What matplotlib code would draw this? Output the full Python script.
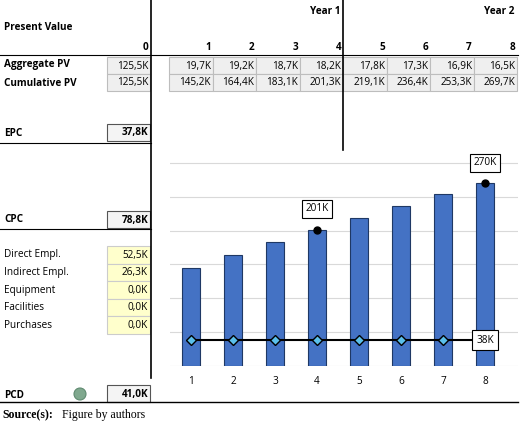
import matplotlib
matplotlib.use("Agg")
import matplotlib.pyplot as plt
from matplotlib.patches import Rectangle, Circle

periods = [1, 2, 3, 4, 5, 6, 7, 8]
aggregate_pv = ["19,7K", "19,2K", "18,7K", "18,2K", "17,8K", "17,3K", "16,9K", "16,5K"]
cumulative_pv = ["145,2K", "164,4K", "183,1K", "201,3K", "219,1K", "236,4K", "253,3K", "269,7K"]
cumulative_vals = [145.2, 164.4, 183.1, 201.3, 219.1, 236.4, 253.3, 269.7]
pcd_line = [38] * 8
cost_labels = ["Direct Empl.", "Indirect Empl.", "Equipment", "Facilities", "Purchases"]
cost_values = ["52,5K", "26,3K", "0,0K", "0,0K", "0,0K"]
summary = {"EPC": "37,8K", "CPC": "78,8K", "PCD": "41,0K", "PV0": "125,5K"}

fig = plt.figure(figsize=(5.2, 4.24), dpi=100)
ax = fig.add_axes([0, 0, 1, 1])
ax.set_xlim(0, 520); ax.set_ylim(424, 0); ax.axis("off")
F = "Open Sans"
fs = 7.2

def cell(x0, x1, y0, y1, txt, fc="#efefef", ec="#bdbdbd", bold=False):
    ax.add_patch(Rectangle((x0, y0), x1 - x0, y1 - y0, fc=fc, ec=ec, lw=0.8))
    ax.text(x1 - 2, (y0 + y1) / 2 + 0.5, txt, ha="right", va="center", fontsize=fs,
            family=F, fontweight="bold" if bold else "normal")

# lines
ax.plot([151, 151], [0, 378], color="black", lw=1.2)
ax.plot([343, 343], [0, 150], color="black", lw=1.2)
ax.plot([0, 518], [55, 55], color="black", lw=0.8)
ax.plot([0, 151], [143, 143], color="black", lw=0.8)
ax.plot([0, 151], [229, 229], color="black", lw=0.8)
ax.plot([0, 518], [402, 402], color="black", lw=1.0)

ax.text(341, 12, "Year 1", ha="right", va="center", fontsize=fs, family=F, fontweight="bold")
ax.text(515, 12, "Year 2", ha="right", va="center", fontsize=fs, family=F, fontweight="bold")
ax.text(4, 28, "Present Value", ha="left", va="center", fontsize=fs, family=F, fontweight="bold")
ax.text(148, 47, "0", ha="right", va="center", fontsize=fs, family=F, fontweight="bold")

edges = [169, 213, 256, 300, 343, 387, 430, 474, 517]
for i, p in enumerate(periods):
    ax.text(edges[i + 1] - 2, 47, str(p), ha="right", va="center", fontsize=fs, family=F, fontweight="bold")
    cell(edges[i], edges[i + 1], 57, 74, aggregate_pv[i])
    cell(edges[i], edges[i + 1], 74, 91, cumulative_pv[i])
ax.text(4, 65, "Aggregate PV", ha="left", va="center", fontsize=fs, family=F, fontweight="bold")
ax.text(4, 83, "Cumulative PV", ha="left", va="center", fontsize=fs, family=F, fontweight="bold")
cell(107, 150, 57, 74, summary["PV0"])
cell(107, 150, 74, 91, summary["PV0"])

ax.text(4, 134, "EPC", ha="left", va="center", fontsize=fs, family=F, fontweight="bold")
cell(107, 150, 124, 141, summary["EPC"], fc="#f4f4f4", ec="#555555", bold=True)
ax.text(4, 220, "CPC", ha="left", va="center", fontsize=fs, family=F, fontweight="bold")
cell(107, 150, 211, 228, summary["CPC"], fc="#f4f4f4", ec="#555555", bold=True)
for i, (l, v) in enumerate(zip(cost_labels, cost_values)):
    y0 = 246 + i * 17.5
    ax.text(4, y0 + 9, l, ha="left", va="center", fontsize=fs, family=F)
    cell(107, 150, y0, y0 + 17.5, v, fc="#ffffcc", ec="#cccccc")
ax.text(4, 395, "PCD", ha="left", va="center", fontsize=fs, family=F, fontweight="bold")
ax.add_patch(Circle((80, 394), 6, fc="#7fa88e", ec="#5f8a70", lw=0.8))
cell(107, 150, 385, 402, summary["PCD"], fc="#f4f4f4", ec="#555555", bold=True)

ax.text(2, 415, "Source(s):", ha="left", va="center", fontsize=8.5, family="Liberation Serif", fontweight="bold")
ax.text(62, 415, "Figure by authors", ha="left", va="center", fontsize=8.5, family="Liberation Serif")

# chart
cax = fig.add_axes([170 / 520, 1 - 366 / 424, 348 / 520, 216 / 424])
cax.set_xlim(0.5, 0.5 + 348 / 42); cax.set_ylim(0, 319)
cax.patch.set_alpha(0)
for s in cax.spines.values():
    s.set_visible(False)
cax.set_xticks([]); cax.set_yticks([])
for g in range(50, 301, 50):
    cax.axhline(g, color="#d9d9d9", lw=0.8, zorder=0)
cax.axhline(0, color="#d9d9d9", lw=0.8, zorder=0)
cax.bar(periods, cumulative_vals, width=0.41, color="#4472c4", edgecolor="#1f3864", lw=0.8, zorder=2)
cax.plot(periods, pcd_line, color="black", lw=1.5, marker="D", ms=5, mfc="#5bc0eb", mec="black", mew=1, zorder=3)
for p in periods:
    ax.text(191 + (p - 1) * 42, 382, str(p), ha="center", va="center", fontsize=fs, family=F)
for idx in [3, 7]:
    cax.plot(periods[idx], cumulative_vals[idx], "o", color="black", ms=5, zorder=4)
    cax.annotate(f"{round(cumulative_vals[idx])}K", (periods[idx], cumulative_vals[idx]),
                 xytext=(0, 15), textcoords="offset points", ha="center", va="center",
                 fontsize=fs, family=F,
                 bbox=dict(boxstyle="square,pad=0.35", fc="white", ec="black", lw=0.8), zorder=5)
cax.annotate(f"{pcd_line[-1]}K", (periods[-1], pcd_line[-1]), ha="center", va="center",
             fontsize=fs, family=F,
             bbox=dict(boxstyle="square,pad=0.45", fc="white", ec="black", lw=0.8), zorder=5)

fig.savefig("out.png", dpi=100)
